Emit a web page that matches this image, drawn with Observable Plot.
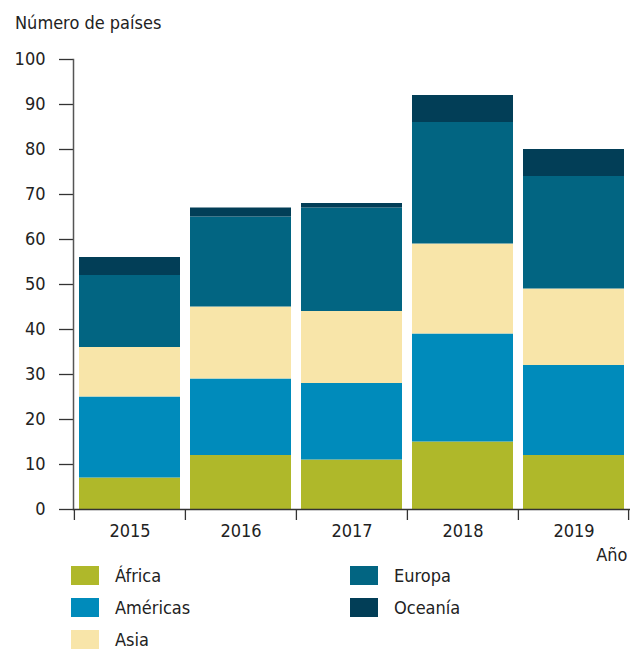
<!DOCTYPE html>
<html>
<head>
<meta charset="utf-8">
<script src="https://cdn.jsdelivr.net/npm/d3@7"></script>
<script src="https://cdn.jsdelivr.net/npm/@observablehq/plot@0.6"></script>
<style>
  body { margin: 0; background: #fff; font-family: "Liberation Sans Narrow", "DejaVu Sans Condensed", "Arial Narrow", sans-serif; color: #222; }
  #wrap { position: relative; width: 630px; height: 657px; }
  #title { position: absolute; left: 15px; top: 12px; font-size: 18px; }
  #chart { position: absolute; left: 0; top: 0; }
  .leg { position: absolute; display: flex; align-items: center; font-size: 18px; }
  .sw { width: 28px; height: 19px; margin-right: 16px; }
</style>
</head>
<body>
<div id="wrap">
  <div id="chart"></div>
  <div id="title">Número de países</div>
  <div id="legend"></div>
</div>
<script>
const years = ["2015", "2016", "2017", "2018", "2019"];
const series = ["África", "Américas", "Asia", "Europa", "Oceanía"];
const colors = ["#afb82a", "#008bbb", "#f8e5a9", "#026582", "#023e57"];
const africa   = [7, 12, 11, 15, 12];
const americas = [18, 17, 17, 24, 20];
const asia     = [11, 16, 16, 20, 17];
const europa   = [16, 20, 23, 27, 25];
const oceania  = [4, 2, 1, 6, 6];
const yTicks = [0, 10, 20, 30, 40, 50, 60, 70, 80, 90, 100];

const valuesBySeries = [africa, americas, asia, europa, oceania];
const data = [];
series.forEach((s, i) => years.forEach((y, j) => data.push({year: y, region: s, value: valuesBySeries[i][j]})));

const W = 630, H = 575, mL = 73, mR = 1, mT = 59, mB = H - 509;
const step = (W - mL - mR) / years.length;

const plot = Plot.plot({
  width: W, height: H,
  marginLeft: mL, marginRight: mR, marginTop: mT, marginBottom: mB,
  style: {fontFamily: '"Liberation Sans Narrow", "DejaVu Sans Condensed", "Arial Narrow", sans-serif', fontSize: "18px", color: "#222", background: "#fff"},
  x: {domain: years, padding: 0, axis: null},
  y: {domain: [0, 100], axis: null},
  color: {domain: series, range: colors},
  marks: [
    Plot.barY(data, Plot.stackY({order: series}, {x: "year", y: "value", fill: "region", insetLeft: 5, insetRight: 5})),
    Plot.axisY({ticks: yTicks, tickSize: 14, tickPadding: 14, label: null, stroke: "#333", strokeWidth: 1.3}),
    Plot.frame({anchor: "left", stroke: "#555", strokeWidth: 1.5}),
    Plot.frame({anchor: "bottom", stroke: "#333", strokeWidth: 1.3}),
    Plot.axisX({ticks: years, tickSize: 11, text: null, label: null, dx: -step / 2, stroke: "#333", strokeWidth: 1.3}),
    Plot.axisX({ticks: [years[years.length - 1]], tickSize: 11, text: null, label: null, dx: step / 2 - 1, stroke: "#333", strokeWidth: 1.3}),
    Plot.axisX({ticks: years, tickSize: 0, tickPadding: 15, label: "Año", labelAnchor: "right", labelOffset: 51, labelArrow: "none"})
  ]
});
document.getElementById("chart").appendChild(plot);

const legend = document.getElementById("legend");
const pos = [[71, 566], [71, 598], [71, 630], [350, 566], [350, 598]];
series.forEach((s, i) => {
  const d = document.createElement("div");
  d.className = "leg";
  d.style.left = pos[i][0] + "px";
  d.style.top = pos[i][1] + "px";
  d.style.height = "19px";
  d.innerHTML = `<div class="sw" style="background:${colors[i]}"></div><span>${s}</span>`;
  legend.appendChild(d);
});
</script>
</body>
</html>
